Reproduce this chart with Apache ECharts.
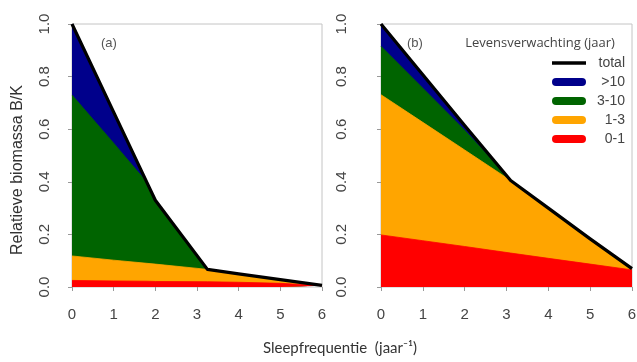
<!DOCTYPE html>
<html>
<head>
<meta charset="utf-8">
<script src="https://cdn.jsdelivr.net/npm/echarts@6/dist/echarts.min.js"></script>
<style>
html,body{margin:0;padding:0;background:#fff;}
#chart{width:637px;height:362px;}
</style>
</head>
<body>
<div id="chart"></div>
<script>
// ---- Data ----
const xTicks = [0, 1, 2, 3, 4, 5, 6];
const yTicks = [0, 0.2, 0.4, 0.6, 0.8, 1.0];
const classNames = ['0-1', '1-3', '3-10', '>10'];
const classColors = ['#FF0000', '#FFA500', '#006400', '#00008B'];

// panel (a)
const xA = [0, 1, 1.8, 2, 3.25, 4, 5, 6];
const a_0_1  = [0.025, 0.023, 0.022, 0.021, 0.020, 0.018, 0.014, 0.005];
const a_1_3  = [0.093, 0.079, 0.068, 0.066, 0.047, 0.032, 0.014, 0.001];
const a_3_10 = [0.612, 0.445, 0.307, 0.243, 0.000, 0.000, 0.000, 0.000];
const a_gt10 = [0.270, 0.118, 0.000, 0.000, 0.000, 0.000, 0.000, 0.000];
const a_total = [1.000, 0.665, 0.397, 0.330, 0.067, 0.050, 0.028, 0.006];

// panel (b)
const xB = [0, 1, 2, 3.1, 4, 5, 6];
const b_0_1  = [0.198, 0.176, 0.154, 0.129, 0.109, 0.087, 0.065];
const b_1_3  = [0.533, 0.450, 0.367, 0.276, 0.191, 0.096, 0.005];
const b_3_10 = [0.184, 0.130, 0.075, 0.000, 0.000, 0.000, 0.000];
const b_gt10 = [0.085, 0.051, 0.018, 0.000, 0.000, 0.000, 0.000];
const b_total = [1.000, 0.807, 0.614, 0.405, 0.300, 0.183, 0.070];

// ---- Build options ----
const TICK_FONT = 'Liberation Sans, Arial, sans-serif';

// cumulative (stacked) tops, bottom class first
function cumulative(layers) {
  const out = [];
  let run = layers[0].map(() => 0);
  layers.forEach(ys => {
    run = run.map((v, i) => Math.round((v + ys[i]) * 1000) / 1000);
    out.push(run.slice());
  });
  return out;
}

function areaSeries(name, color, xs, ys, idx) {
  return {
    name: name, type: 'line',
    xAxisIndex: idx, yAxisIndex: idx,
    data: xs.map((x, i) => [x, ys[i]]),
    itemStyle: { color: color },
    symbol: 'none', showSymbol: false, silent: true,
    lineStyle: { width: 0.8, color: color },
    areaStyle: { color: color, opacity: 1, origin: 'start' },
    z: 2
  };
}
function totalSeries(xs, ys, idx) {
  return {
    name: 'total', type: 'line',
    xAxisIndex: idx, yAxisIndex: idx,
    data: xs.map((x, i) => [x, ys[i]]),
    itemStyle: { color: '#000' },
    symbol: 'none', showSymbol: false, silent: true,
    lineStyle: { width: 3.2, color: '#000', join: 'round' },
    z: 5
  };
}

const series = [];
[[xA, [a_0_1, a_1_3, a_3_10, a_gt10], a_total, 0],
 [xB, [b_0_1, b_1_3, b_3_10, b_gt10], b_total, 1]].forEach(([xs, layers, tot, idx]) => {
  const cum = cumulative(layers);
  for (let k = layers.length - 1; k >= 0; k--) {
    series.push(areaSeries(classNames[k], classColors[k], xs, cum[k], idx));
  }
  series.push(totalSeries(xs, tot, idx));
});

function xAxis(idx) {
  return {
    type: 'value', gridIndex: idx, min: xTicks[0], max: xTicks[xTicks.length - 1], interval: 1,
    axisLine: { show: false },
    axisTick: { show: true, length: 4, lineStyle: { color: '#999' } },
    splitLine: { show: false },
    axisLabel: { margin: 20, fontSize: 15, color: '#444', fontFamily: TICK_FONT }
  };
}
function yAxis(idx, margin) {
  return {
    type: 'value', gridIndex: idx, min: yTicks[0], max: yTicks[yTicks.length - 1], interval: 0.2,
    axisLine: { show: false },
    axisTick: { show: true, length: 4, lineStyle: { color: '#999' } },
    splitLine: { show: false },
    axisLabel: {
      rotate: 90, margin: margin, fontSize: 15, color: '#444', fontFamily: TICK_FONT,
      formatter: v => v.toFixed(1)
    }
  };
}

const PILL = 'path://M4,0h26a4,4 0 0 1 0,8h-26a4,4 0 0 1 0,-8z';

const option = {
  animation: false,
  backgroundColor: '#fff',
  grid: [
    { left: 72, top: 24, width: 250, height: 263, show: true, borderColor: '#c4c4c4', borderWidth: 1, backgroundColor: 'transparent', outerBoundsMode: 'none' },
    { left: 381, top: 24, width: 251, height: 263, show: true, borderColor: '#c4c4c4', borderWidth: 1, backgroundColor: 'transparent', outerBoundsMode: 'none' }
  ],
  xAxis: [xAxis(0), xAxis(1)],
  yAxis: [yAxis(0, 20), yAxis(1, 32)],
  legend: {
    orient: 'vertical', left: 547, top: 51, z: 20,
    itemWidth: 34, itemHeight: 8, itemGap: 5,
    selectedMode: false,
    data: [
      { name: 'total', icon: 'path://M0,0M0,8M0,2.2h34v3.6h-34z', itemStyle: { color: '#000' } },
      { name: '>10', icon: PILL, itemStyle: { color: classColors[3] } },
      { name: '3-10', icon: PILL, itemStyle: { color: classColors[2] } },
      { name: '1-3', icon: PILL, itemStyle: { color: classColors[1] } },
      { name: '0-1', icon: PILL, itemStyle: { color: classColors[0] } }
    ],
    formatter: n => '{t|' + n + '}',
    textStyle: {
      fontFamily: TICK_FONT, fontSize: 14, color: '#444', lineHeight: 14,
      rich: { t: { width: 34, align: 'right', fontSize: 14, color: '#444', fontFamily: TICK_FONT } }
    }
  },
  graphic: [
    { type: 'text', left: 101, top: 37, silent: true, z: 100,
      style: { text: '(a)', fontSize: 13, fontFamily: TICK_FONT, fill: '#555' } },
    { type: 'text', left: 407, top: 37, silent: true, z: 100,
      style: { text: '(b)', fontSize: 13, fontFamily: TICK_FONT, fill: '#555' } },
    { type: 'text', x: 540, y: 43, silent: true, z: 100,
      style: { text: 'Levensverwachting (jaar)', fontSize: 13, fontFamily: 'Open Sans, sans-serif', fill: '#444', align: 'center', verticalAlign: 'middle' } },
    { type: 'text', x: 340, y: 348, silent: true, z: 100,
      style: { text: 'Sleepfrequentie  (jaar\u207B\u00B9)', fontSize: 15, fontFamily: 'Lato, sans-serif', fill: '#333', align: 'center', verticalAlign: 'middle' } },
    { type: 'text', x: 18, y: 170, rotation: Math.PI / 2, silent: true, z: 100,
      style: { text: 'Relatieve biomassa B/K', fontSize: 16, fontFamily: TICK_FONT, fill: '#333', align: 'center', verticalAlign: 'middle' } }
  ],
  series: series
};

const chart = echarts.init(document.getElementById('chart'), null, { renderer: 'canvas' });
chart.setOption(option);
</script>
</body>
</html>
